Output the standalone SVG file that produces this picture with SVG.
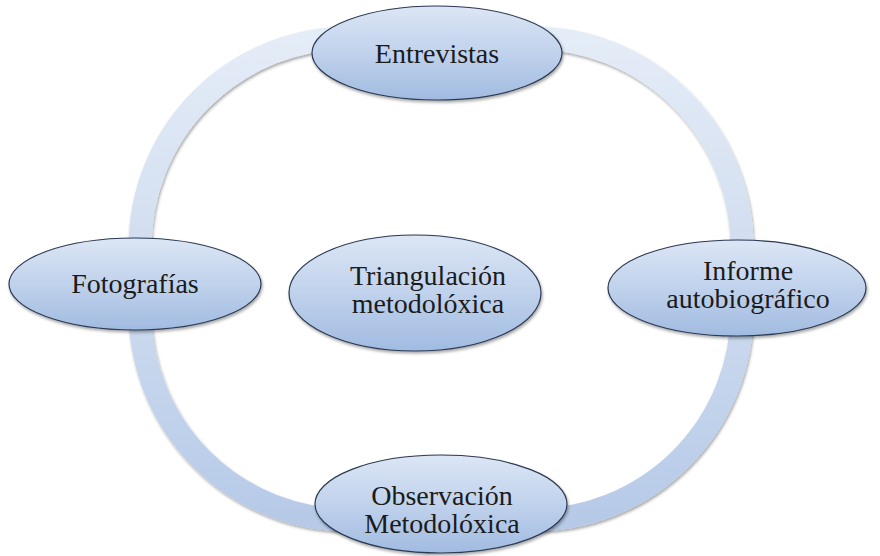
<svg xmlns="http://www.w3.org/2000/svg" width="880" height="556" viewBox="0 0 880 556">
<defs>
<linearGradient id="ringGrad" x1="0" y1="0" x2="0" y2="1">
<stop offset="0" stop-color="#e4ecf7"/>
<stop offset="0.5" stop-color="#cfdcef"/>
<stop offset="1" stop-color="#b6cae8"/>
</linearGradient>
<linearGradient id="nodeGrad" x1="0" y1="0" x2="0" y2="1">
<stop offset="0" stop-color="#dce6f5"/>
<stop offset="0.5" stop-color="#c0d2ec"/>
<stop offset="1" stop-color="#a1bbe1"/>
</linearGradient>
<filter id="shadow" x="-10%" y="-10%" width="120%" height="130%">
<feDropShadow dx="1" dy="2" stdDeviation="1.6" flood-color="#000" flood-opacity="0.35"/>
</filter>
</defs>
<style>
.node ellipse { fill: url(#nodeGrad); stroke: #2b3a52; stroke-width: 1.2; filter: url(#shadow); }
.node text { font-family: "Liberation Serif", "Times New Roman", serif; font-size: 28px; fill: #1b1b1b; text-anchor: middle; }
.ring { fill: none; stroke: url(#ringGrad); stroke-width: 23; filter: url(#shadow); }
</style>
<rect width="880" height="556" fill="#ffffff"/>
<g id="connectors">
<rect class="ring" x="140" y="38" width="602" height="482" rx="209" ry="209"/>
</g>
<g id="node-entrevistas" class="node">
<ellipse cx="437" cy="53" rx="125" ry="47"/>
<text x="437" y="63">Entrevistas</text>
</g>
<g id="node-fotografias" class="node">
<ellipse cx="135" cy="284" rx="126" ry="46"/>
<text x="135" y="293">Fotografías</text>
</g>
<g id="node-informe" class="node">
<ellipse cx="737" cy="288" rx="129" ry="48"/>
<text x="748" y="280">Informe</text>
<text x="748" y="308">autobiográfico</text>
</g>
<g id="node-triangulacion" class="node">
<ellipse cx="415" cy="293" rx="126" ry="58"/>
<text x="428" y="285">Triangulación</text>
<text x="428" y="313">metodolóxica</text>
</g>
<g id="node-observacion" class="node">
<ellipse cx="441" cy="504" rx="126" ry="49"/>
<text x="442" y="505">Observación</text>
<text x="442" y="533">Metodolóxica</text>
</g>
</svg>
